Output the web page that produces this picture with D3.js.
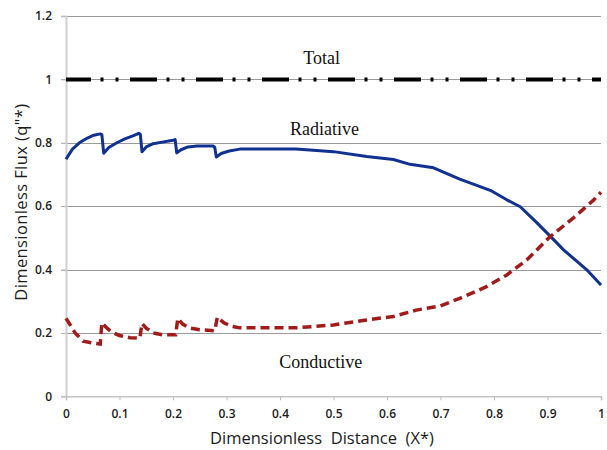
<!DOCTYPE html>
<html>
<head>
<meta charset="utf-8">
<script src="https://cdn.jsdelivr.net/npm/d3@7"></script>
<style>
  body { margin: 0; background: #fff; }
  svg { display: block; }
</style>
</head>
<body>
<div id="chart"></div>
<script>
// values (x*, q''*)
const totalX = [0, 1];
const totalY = [1, 1];

const radX = [0, 0.012, 0.025, 0.04, 0.052, 0.064, 0.067, 0.0705, 0.08, 0.095, 0.11, 0.125, 0.136, 0.139, 0.142,
  0.15, 0.163, 0.18, 0.2, 0.204, 0.207, 0.215, 0.228, 0.245, 0.275, 0.278, 0.281, 0.29, 0.305, 0.325, 0.43,
  0.5, 0.562, 0.612, 0.643, 0.687, 0.736, 0.793, 0.824, 0.849, 0.88, 0.911, 0.93, 0.973, 1];
const radY = [0.748, 0.78, 0.8, 0.815, 0.824, 0.828, 0.826, 0.767, 0.785, 0.8, 0.812, 0.822, 0.83, 0.826, 0.772,
  0.787, 0.797, 0.802, 0.808, 0.81, 0.768, 0.778, 0.787, 0.79, 0.79, 0.786, 0.755, 0.766, 0.774, 0.78, 0.78,
  0.772, 0.757, 0.747, 0.732, 0.721, 0.685, 0.65, 0.62, 0.598, 0.548, 0.495, 0.462, 0.4, 0.351];

const condX = [0, 0.008, 0.017, 0.032, 0.05, 0.064, 0.067, 0.075, 0.085, 0.1, 0.12, 0.138, 0.142, 0.15, 0.163,
  0.18, 0.205, 0.209, 0.218, 0.23, 0.25, 0.278, 0.283, 0.295, 0.31, 0.325, 0.43, 0.5, 0.562, 0.612, 0.655,
  0.699, 0.736, 0.786, 0.824, 0.861, 0.905, 0.948, 0.986, 1];
const condY = [0.246, 0.225, 0.2, 0.174, 0.168, 0.165, 0.232, 0.218, 0.203, 0.192, 0.185, 0.183, 0.23, 0.215, 0.2,
  0.194, 0.194, 0.246, 0.228, 0.216, 0.21, 0.207, 0.25, 0.232, 0.221, 0.216, 0.216, 0.225, 0.241, 0.252, 0.272,
  0.285, 0.309, 0.346, 0.383, 0.43, 0.504, 0.562, 0.619, 0.644];

const xTicks = [0, 0.1, 0.2, 0.3, 0.4, 0.5, 0.6, 0.7, 0.8, 0.9, 1];
const yTicks = [0, 0.2, 0.4, 0.6, 0.8, 1, 1.2];

const labels = [
  {text: "Total", x: 0.478, y: 1.047},
  {text: "Radiative", x: 0.483, y: 0.823},
  {text: "Conductive", x: 0.476, y: 0.088}
];

const width = 607, height = 450;
const margin = {top: 16, right: 6, bottom: 54, left: 66};

const svg = d3.select("#chart").append("svg")
    .attr("width", width)
    .attr("height", height);

const x = d3.scaleLinear().domain([0, 1]).range([margin.left, width - margin.right]);
const y = d3.scaleLinear().domain([0, 1.2]).range([height - margin.bottom + 0.3, margin.top]);

// gridlines
svg.append("g")
  .selectAll("line")
  .data(yTicks.filter(d => d > 0))
  .join("line")
    .attr("x1", x(0) - 5)
    .attr("x2", x(1))
    .attr("y1", d => Math.round(y(d)) + 0.5)
    .attr("y2", d => Math.round(y(d)) + 0.5)
    .attr("stroke", "#9a9a9a")
    .attr("stroke-width", 1);

// y axis
const yAxis = svg.append("g")
    .attr("transform", `translate(${x(0)},0)`)
    .call(d3.axisLeft(y).tickValues(yTicks).tickSize(5).tickPadding(9)
      .tickFormat(d => String(+d.toFixed(1))));
yAxis.select(".domain").attr("stroke", "#cfcfcf").attr("stroke-width", 2);
yAxis.selectAll(".tick line").attr("stroke", "#bdbdbd");

// x axis
const xAxis = svg.append("g")
    .attr("transform", `translate(0,${y(0)})`)
    .call(d3.axisBottom(x).tickValues(xTicks).tickSize(4).tickPadding(9)
      .tickFormat(d => String(+d.toFixed(1))));
xAxis.select(".domain").attr("stroke", "#c4c4c4").attr("stroke-width", 1.5);
xAxis.selectAll(".tick line").attr("stroke", "#bdbdbd");

svg.selectAll(".tick text")
    .attr("font-family", "'Open Sans', sans-serif")
    .attr("font-weight", 600)
    .attr("font-size", "12px")
    .attr("fill", "#1c1c1c");

const line = d3.line()
    .x(d => x(d[0]))
    .y(d => y(d[1]));

// Total
svg.append("path")
    .datum(d3.zip(totalX, totalY))
    .attr("d", line)
    .attr("fill", "none")
    .attr("stroke", "#000")
    .attr("stroke-width", 4)
    .attr("stroke-dasharray", "27,9.5,3,12,3,11.5")
    .attr("stroke-dashoffset", 2);

// Radiative
svg.append("path")
    .datum(d3.zip(radX, radY))
    .attr("d", line)
    .attr("fill", "none")
    .attr("stroke", "#10318f")
    .attr("stroke-width", 3)
    .attr("stroke-linejoin", "round");

// Conductive
svg.append("path")
    .datum(d3.zip(condX, condY))
    .attr("d", line)
    .attr("fill", "none")
    .attr("stroke", "#a11b1b")
    .attr("stroke-width", 3.5)
    .attr("stroke-dasharray", "9,5");

// annotations
svg.append("g")
  .selectAll("text")
  .data(labels)
  .join("text")
    .attr("x", d => x(d.x))
    .attr("y", d => y(d.y))
    .attr("text-anchor", "middle")
    .attr("font-family", "'Liberation Serif', 'Times New Roman', serif")
    .attr("font-size", "18px")
    .attr("fill", "#111")
    .text(d => d.text);

// axis titles
svg.append("text")
    .attr("x", 322)
    .attr("y", 444)
    .attr("text-anchor", "middle")
    .attr("font-family", "'Open Sans', sans-serif")
    .attr("font-weight", 500)
    .attr("font-size", "16.5px")
    .attr("fill", "#1c1c1c")
    .style("white-space", "pre")
    .text("Dimensionless  Distance  (X*)");

svg.append("text")
    .attr("transform", `translate(27,${(y(0) + y(1.2)) / 2 - 4}) rotate(-90)`)
    .attr("text-anchor", "middle")
    .attr("font-family", "'Open Sans', sans-serif")
    .attr("font-weight", 500)
    .attr("font-size", "16.5px")
    .attr("letter-spacing", "0.4px")
    .attr("fill", "#1c1c1c")
    .text("Dimensionless Flux (q\"*)");
</script>
</body>
</html>
